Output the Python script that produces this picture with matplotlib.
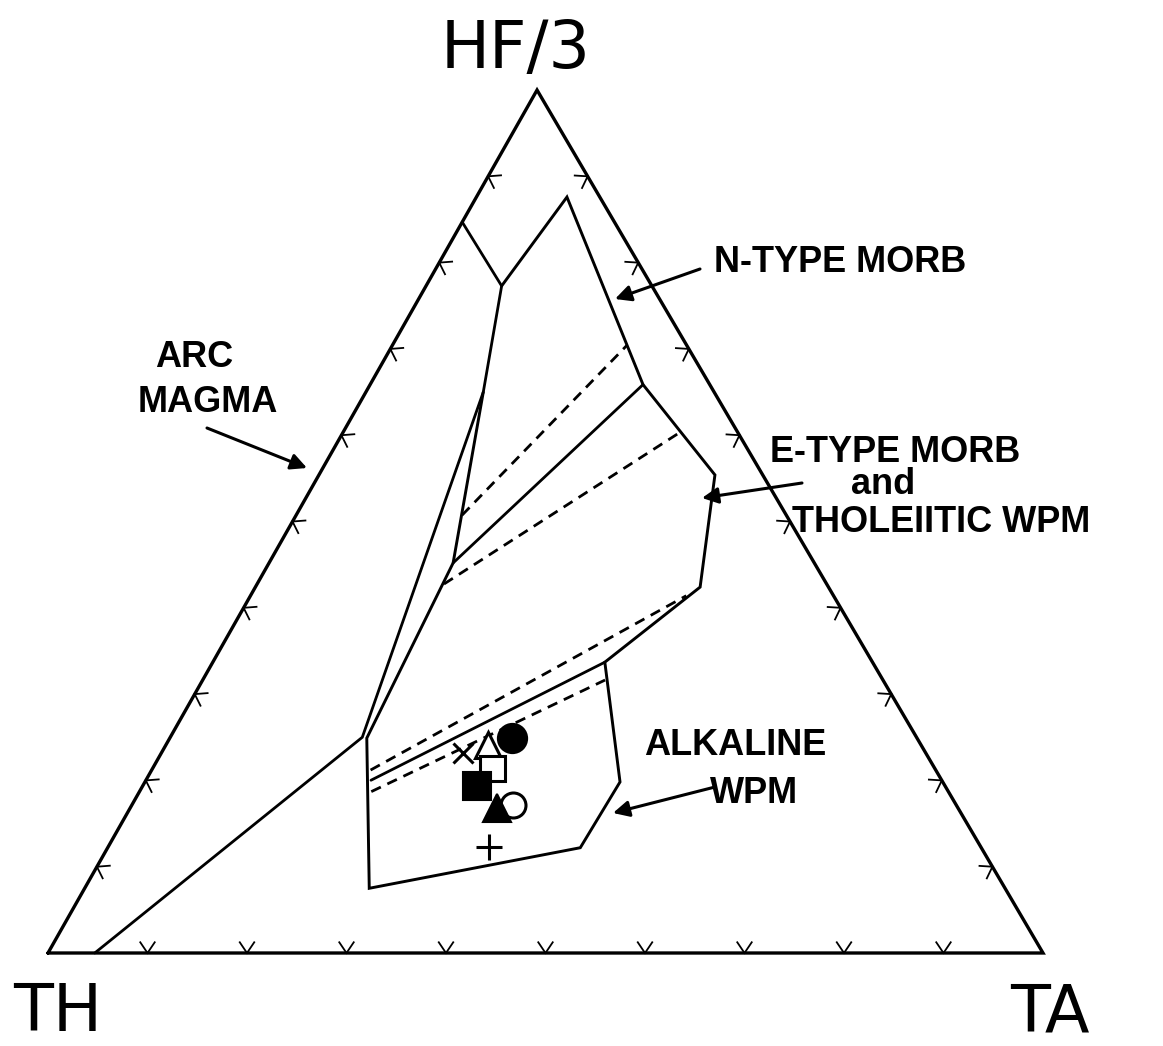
import matplotlib

matplotlib.use("Agg")

import matplotlib.pyplot as plt
import numpy as np

# compositions in percent: Hf/3, Th, Ta
ARC_HF = [0.0, 25.0, 65.0, 77.3, 84.7]
ARC_TH = [95.3, 55.7, 23.2, 15.1, 15.3]
ARC_TA = [4.7, 19.3, 11.8, 7.6, 0.0]

FIELD_HF = [77.3, 87.6, 65.8, 55.4, 42.4, 33.7, 19.8, 12.2, 7.5, 24.9, 45.2, 65.0]
FIELD_TH = [15.1, 3.3, 6.7, 4.8, 12.9, 26.9, 32.4, 40.3, 63.9, 55.3, 36.3, 23.2]
FIELD_TA = [7.6, 9.1, 27.4, 39.8, 44.7, 39.4, 47.7, 47.5, 28.6, 19.8, 18.5, 11.8]

# inner solid boundaries (start, end)
SOLID_HF = [[45.2, 65.8], [20.0, 33.7]]
SOLID_TH = [[36.3, 6.7], [57.3, 26.9]]
SOLID_TA = [[18.5, 27.4], [22.6, 39.4]]

# dashed boundaries (start, end)
DASH_HF = [[50.8, 70.5], [42.8, 60.4], [21.2, 41.4], [18.7, 31.6]]
DASH_TH = [[32.6, 6.0], [38.5, 5.8], [56.8, 14.8], [58.0, 27.9]]
DASH_TA = [[16.7, 23.6], [18.8, 33.9], [22.0, 43.8], [23.3, 40.4]]

# samples: x, open triangle, open square, filled circle, filled square,
# open circle, filled triangle, plus
SAMPLE_HF = [23.2, 24.1, 21.4, 24.9, 19.4, 17.1, 16.8, 12.3]
SAMPLE_TH = [46.5, 43.5, 44.5, 40.7, 47.0, 44.6, 46.3, 49.4]
SAMPLE_TA = [30.3, 32.4, 34.1, 34.4, 33.6, 38.3, 36.9, 38.3]

TICKS = [10, 20, 30, 40, 50, 60, 70, 80, 90]

# shape of the scanned triangle (base = 1)
APEX_X = 0.4915
APEX_Y = 0.8673
W, H = 1163, 1046


def tern(hf, th, ta):
    hf = np.asarray(hf, float)
    th = np.asarray(th, float)
    ta = np.asarray(ta, float)
    s = hf + th + ta
    return ta / s + hf / s * APEX_X, hf / s * APEX_Y


def fxy(px, py):
    return px / W, 1 - py / H


def main() -> None:
    fig = plt.figure(figsize=(W / 100, H / 100), dpi=100)
    ax = fig.add_axes([0, 0, 1, 1])
    ax.set_xlim(-48 / 995, 1115 / 995)
    ax.set_ylim(-93 / 995, 953 / 995)
    ax.axis("off")

    k = dict(color="black", solid_capstyle="round", solid_joinstyle="miter")

    # outer triangle
    cx, cy = tern([0, 0, 100, 0], [100, 0, 0, 100], [0, 100, 0, 0])
    ax.plot(cx, cy, lw=2.4, **k)

    # ticks: small chevrons pointing into the triangle
    centre = np.array([np.mean(cx[:3]), np.mean(cy[:3])])
    arm = 0.013
    for i in range(3):
        p0 = np.array([cx[i], cy[i]])
        p1 = np.array([cx[i + 1], cy[i + 1]])
        d = (p1 - p0) / np.linalg.norm(p1 - p0)
        n = np.array([-d[1], d[0]])
        if np.dot(centre - p0, n) < 0:
            n = -n
        ang = np.arctan2(n[1], n[0])
        for t in TICKS:
            p = p0 + (p1 - p0) * t / 100
            for a in (ang + np.radians(34), ang - np.radians(34)):
                q = p + arm * np.array([np.cos(a), np.sin(a)])
                ax.plot([p[0], q[0]], [p[1], q[1]], lw=1.3, color="black")

    x, y = tern(ARC_HF, ARC_TH, ARC_TA)
    ax.plot(x, y, lw=2.0, **k)
    x, y = tern(FIELD_HF, FIELD_TH, FIELD_TA)
    ax.plot(x, y, lw=2.1, **k)

    for hf, th, ta in zip(SOLID_HF, SOLID_TH, SOLID_TA):
        x, y = tern(hf, th, ta)
        ax.plot(x, y, lw=2.0, **k)

    for hf, th, ta in zip(DASH_HF, DASH_TH, DASH_TA):
        x, y = tern(hf, th, ta)
        ax.plot(x, y, lw=2.0, color="black", dashes=(3.8, 2.6))

    # samples
    sx, sy = tern(SAMPLE_HF, SAMPLE_TH, SAMPLE_TA)
    styles = [
        dict(marker="x", ms=15, mew=2.2, mfc="none", mec="black"),
        dict(marker="^", ms=19, mew=2.2, mfc="white", mec="black"),
        dict(marker="s", ms=18, mew=2.2, mfc="white", mec="black"),
        dict(marker="o", ms=21, mew=1.5, mfc="black", mec="black"),
        dict(marker="s", ms=20, mew=1.5, mfc="black", mec="black"),
        dict(marker="o", ms=18, mew=2.2, mfc="white", mec="black"),
        dict(marker="^", ms=20, mew=1.5, mfc="black", mec="black"),
        dict(marker="+", ms=19, mew=2.2, mfc="none", mec="black"),
    ]
    for i, st in enumerate(styles):
        ax.plot(sx[i], sy[i], ls="none", zorder=5 + i, **st)

    # corner labels
    corner = dict(fontsize=47, family="DejaVu Sans", ha="center", va="baseline")
    fig.text(*fxy(516, 68), "HF/3", **corner)
    fig.text(*fxy(58, 1031), "TH", **corner)
    fig.text(*fxy(1050, 1031), "TA", **corner)

    # field labels
    lab = dict(fontsize=26, family="Liberation Sans", weight="bold", ha="center", va="baseline")
    fig.text(*fxy(194, 367), "ARC", **lab)
    fig.text(*fxy(208, 412), "MAGMA", **lab)
    fig.text(*fxy(840, 272), "N-TYPE MORB", **lab)
    fig.text(*fxy(895, 462), "E-TYPE MORB", **lab)
    fig.text(*fxy(883, 494), "and", **lab)
    fig.text(*fxy(941, 532), "THOLEIITIC WPM", **lab)
    fig.text(*fxy(735, 755), "ALKALINE", **lab)
    fig.text(*fxy(754, 803), "WPM", **lab)

    arrow = dict(arrowstyle="-|>", lw=2.2, color="black", mutation_scale=24, shrinkA=0, shrinkB=0)
    for start, end in [((207, 428), (307, 468)), ((700, 269), (615, 299)),
                       ((802, 483), (702, 498)), ((715, 787), (613, 813))]:
        ax.annotate("", xy=fxy(*end), xycoords="figure fraction",
                    xytext=fxy(*start), textcoords="figure fraction", arrowprops=arrow)

    fig.savefig("out.png", dpi=100, facecolor="white")
    plt.close(fig)


if __name__ == "__main__":
    main()
